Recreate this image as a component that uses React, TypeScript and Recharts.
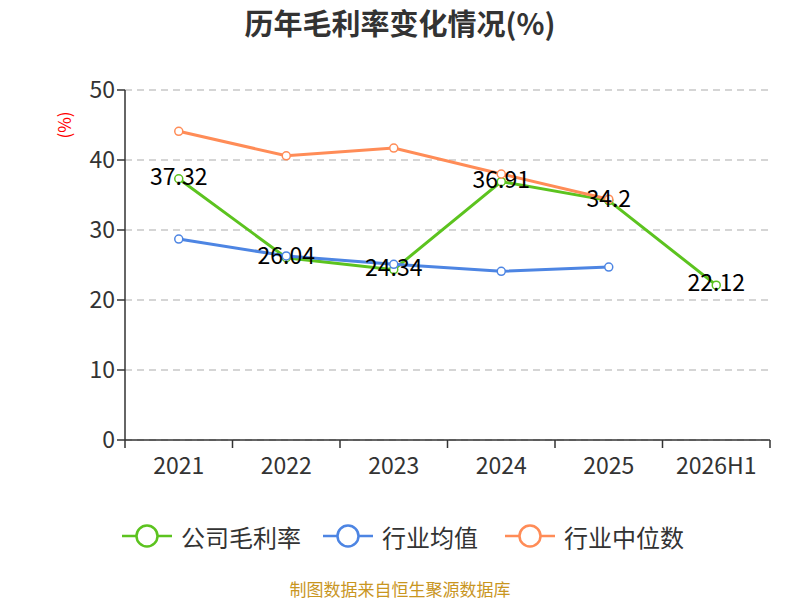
import React from 'react';
import {
  LineChart,
  Line,
  XAxis,
  YAxis,
  CartesianGrid,
  LabelList,
} from 'recharts';

const years = ['2021', '2022', '2023', '2024', '2025', '2026H1'];
const companyMargin = [37.32, 26.04, 24.34, 36.91, 34.2, 22.12];
const industryAvg = [28.7, 26.3, 25.1, 24.1, 24.7, null];
const industryMedian = [44.1, 40.6, 41.7, 38.0, 34.4, null];
const yTicks = [0, 10, 20, 30, 40, 50];

const GREEN = '#5cc31f';
const BLUE = '#4d85e3';
const ORANGE = '#ff8c57';
const FONT = '"Noto Sans CJK SC", "Noto Sans", sans-serif';

const data = years.map((year, i) => ({
  year,
  company: companyMargin[i],
  avg: industryAvg[i],
  median: industryMedian[i],
}));

// plot area: x 125..770 -> 6 bands
const BAND = (770 - 125) / years.length;

const XTick = (props: any) => {
  const { x, y, payload, index } = props;
  const left = x - BAND / 2;
  return (
    <g>
      <line x1={left} y1={y - 8} x2={left} y2={y} stroke="#333" strokeWidth={1.5} />
      {index === years.length - 1 && (
        <line x1={x + BAND / 2} y1={y - 8} x2={x + BAND / 2} y2={y} stroke="#333" strokeWidth={1.5} />
      )}
      <text x={x} y={y + 26} textAnchor="middle" fill="#333" fontSize={23} fontFamily={FONT}>
        {payload.value}
      </text>
    </g>
  );
};

const legendItems = [
  { name: '公司毛利率', color: GREEN, left: 122 },
  { name: '行业均值', color: BLUE, left: 323 },
  { name: '行业中位数', color: ORANGE, left: 505 },
];

const App = () => {
  return (
    <div style={{ position: 'absolute', left: 0, top: 0, width: 800, height: 600, background: '#fff', fontFamily: FONT }}>
      <div
        style={{
          position: 'absolute',
          top: 2,
          left: 0,
          width: 800,
          textAlign: 'center',
          fontSize: 29,
          lineHeight: '40px',
          fontWeight: 'bold',
          color: '#333',
        }}
      >
        历年毛利率变化情况(%)
      </div>
      <div
        style={{
          position: 'absolute',
          left: 63,
          top: 125,
          transform: 'translate(-50%, -50%) rotate(-90deg)',
          color: '#f00',
          fontSize: 17,
          whiteSpace: 'nowrap',
        }}
      >
        (%)
      </div>
      <LineChart
        width={800}
        height={600}
        data={data}
        margin={{ top: 90, right: 30, bottom: 120, left: 0 }}
        style={{ position: 'absolute', left: 0, top: 0 }}
      >
        <CartesianGrid vertical={false} stroke="#c8c8c8" strokeDasharray="7 5" strokeWidth={1.3} />
        <XAxis
          dataKey="year"
          height={40}
          padding={{ left: BAND / 2, right: BAND / 2 }}
          axisLine={{ stroke: '#333', strokeWidth: 1.5 }}
          tickLine={false}
          tick={<XTick />}
          interval={0}
        />
        <YAxis
          width={125}
          domain={[0, 50]}
          ticks={yTicks}
          axisLine={{ stroke: '#333', strokeWidth: 1.5 }}
          tickLine={{ stroke: '#333', strokeWidth: 1.5 }}
          tickSize={8}
          tick={{ fill: '#333', fontSize: 23, fontFamily: FONT }}
        />
        <Line
          dataKey="company"
          stroke={GREEN}
          strokeWidth={3}
          dot={{ r: 4, fill: '#fff', stroke: GREEN, strokeWidth: 1.5 }}
          isAnimationActive={false}
        />
        <Line
          dataKey="avg"
          stroke={BLUE}
          strokeWidth={3}
          dot={{ r: 4, fill: '#fff', stroke: BLUE, strokeWidth: 1.5 }}
          isAnimationActive={false}
        />
        <Line
          dataKey="median"
          stroke={ORANGE}
          strokeWidth={3}
          dot={{ r: 4, fill: '#fff', stroke: ORANGE, strokeWidth: 1.5 }}
          isAnimationActive={false}
        />
        {/* labels drawn on top of all series */}
        <Line dataKey="company" stroke="none" dot={false} activeDot={false} legendType="none" isAnimationActive={false}>
          <LabelList dataKey="company" position="center" dy={-2} fill="#000" fontSize={23} fontFamily={FONT} />
        </Line>
      </LineChart>
      {legendItems.map((item) => (
        <div
          key={item.name}
          style={{ position: 'absolute', left: item.left, top: 519, display: 'flex', alignItems: 'center', height: 34 }}
        >
          <svg width={50} height={30}>
            <line x1={0} y1={15} x2={50} y2={15} stroke={item.color} strokeWidth={2.5} />
            <circle cx={25} cy={15} r={10.5} fill="#fff" stroke={item.color} strokeWidth={2.5} />
          </svg>
          <span style={{ marginLeft: 9, fontSize: 24, color: '#333' }}>{item.name}</span>
        </div>
      ))}
      <div
        style={{
          position: 'absolute',
          top: 578,
          left: 0,
          width: 800,
          textAlign: 'center',
          fontSize: 17,
          lineHeight: '22px',
          color: '#c9961f',
        }}
      >
        制图数据来自恒生聚源数据库
      </div>
    </div>
  );
};

export default App;
